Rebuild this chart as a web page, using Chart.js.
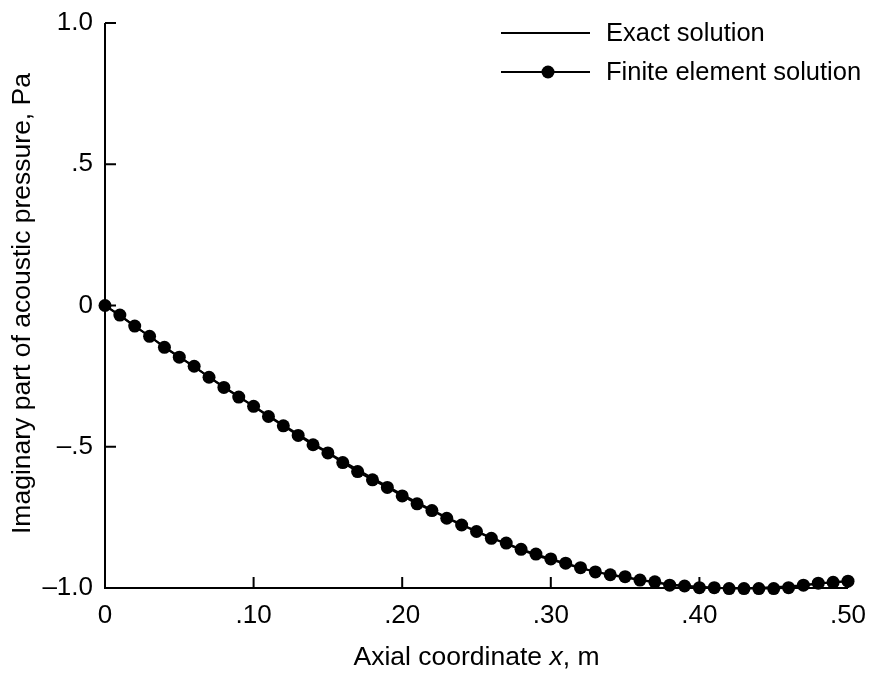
<!DOCTYPE html>
<html>
<head>
<meta charset="utf-8">
<script src="https://cdn.jsdelivr.net/npm/chart.js@4/dist/chart.umd.min.js"></script>
<style>
  html, body { margin: 0; padding: 0; background: #fff; }
  #wrap { width: 874px; height: 675px; }
</style>
</head>
<body>
<div id="wrap"><canvas id="chart" width="874" height="675"></canvas></div>
<script>
// axial coordinate, m
const xValues = [0.00, 0.01, 0.02, 0.03, 0.04, 0.05, 0.06, 0.07, 0.08, 0.09,
                 0.10, 0.11, 0.12, 0.13, 0.14, 0.15, 0.16, 0.17, 0.18, 0.19,
                 0.20, 0.21, 0.22, 0.23, 0.24, 0.25, 0.26, 0.27, 0.28, 0.29,
                 0.30, 0.31, 0.32, 0.33, 0.34, 0.35, 0.36, 0.37, 0.38, 0.39,
                 0.40, 0.41, 0.42, 0.43, 0.44, 0.45, 0.46, 0.47, 0.48, 0.49, 0.50];
// imaginary part of pressure, Pa
const exactValues = [0.000, -0.036, -0.073, -0.109, -0.146, -0.182, -0.217, -0.253, -0.288, -0.322,
                     -0.356, -0.390, -0.423, -0.456, -0.488, -0.520, -0.551, -0.581, -0.611, -0.640,
                     -0.669, -0.697, -0.724, -0.750, -0.775, -0.799, -0.822, -0.844, -0.865, -0.884,
                     -0.900, -0.915, -0.929, -0.942, -0.953, -0.963, -0.972, -0.980, -0.987, -0.992,
                     -0.996, -0.999, -1.000, -1.000, -0.999, -0.997, -0.994, -0.990, -0.985, -0.980, -0.975];
const feValues = [0.000, -0.034, -0.073, -0.109, -0.148, -0.183, -0.215, -0.254, -0.290, -0.324,
                  -0.357, -0.393, -0.426, -0.460, -0.493, -0.522, -0.556, -0.588, -0.617, -0.644,
                  -0.674, -0.702, -0.726, -0.753, -0.777, -0.800, -0.824, -0.841, -0.863, -0.880,
                  -0.897, -0.912, -0.928, -0.943, -0.953, -0.960, -0.972, -0.978, -0.990, -0.993,
                  -0.999, -0.999, -1.002, -1.002, -1.002, -1.002, -0.999, -0.990, -0.983, -0.980, -0.976];

const xTickValues = [0, 0.1, 0.2, 0.3, 0.4, 0.5];
const xTickLabels = ['0', '.10', '.20', '.30', '.40', '.50'];
const yTickValues = [-1, -0.5, 0, 0.5, 1];
const yTickLabels = ['\u20131.0', '\u2013.5', '0', '.5', '1.0'];

const seriesNames = ['Exact solution', 'Finite element solution'];

const FONT = 'Liberation Sans, Arial, Helvetica, sans-serif';
const TICK_SIZE = 26;
const TITLE_SIZE = 26.5;
const LEGEND_SIZE = 25.5;

function toPoints(ys) {
    return xValues.map((x, i) => ({ x: x, y: ys[i] }));
}

// axis lines, inward ticks, titles and legend
const decorPlugin = {
    id: 'decor',
    beforeDatasetsDraw(chart) {
        const ctx = chart.ctx;
        const xs = chart.scales.x, ys = chart.scales.y;
        const x0 = xs.getPixelForValue(0), x1 = xs.getPixelForValue(0.5);
        const y0 = ys.getPixelForValue(-1), y1 = ys.getPixelForValue(1);
        const tick = 11;
        ctx.save();
        ctx.strokeStyle = '#000';
        ctx.lineWidth = 2;
        ctx.lineCap = 'butt';
        ctx.beginPath();
        ctx.moveTo(x0, y1);
        ctx.lineTo(x0, y0);
        ctx.lineTo(x1, y0);
        xTickValues.forEach(v => {
            const px = xs.getPixelForValue(v);
            ctx.moveTo(px, y0);
            ctx.lineTo(px, y0 - tick);
        });
        yTickValues.forEach(v => {
            const py = ys.getPixelForValue(v);
            ctx.moveTo(x0, py);
            ctx.lineTo(x0 + tick, py);
        });
        ctx.stroke();
        ctx.restore();
    },
    afterDraw(chart) {
        const ctx = chart.ctx;
        const xs = chart.scales.x;
        ctx.save();
        ctx.fillStyle = '#000';

        // x title with italic x
        ctx.textBaseline = 'alphabetic';
        const cx = (xs.getPixelForValue(0) + xs.getPixelForValue(0.5)) / 2;
        const parts = [['Axial coordinate ', 'normal'], ['x', 'italic'], [', m', 'normal']];
        let total = 0;
        parts.forEach(p => {
            ctx.font = p[1] + ' ' + TITLE_SIZE + 'px ' + FONT;
            total += ctx.measureText(p[0]).width;
        });
        let px = cx - total / 2;
        ctx.textAlign = 'left';
        parts.forEach(p => {
            ctx.font = p[1] + ' ' + TITLE_SIZE + 'px ' + FONT;
            ctx.fillText(p[0], px, 665);
            px += ctx.measureText(p[0]).width;
        });

        // y title
        ctx.textBaseline = 'middle';
        ctx.font = TITLE_SIZE + 'px ' + FONT;
        ctx.save();
        ctx.translate(23, 303.5);
        ctx.rotate(-Math.PI / 2);
        ctx.textAlign = 'center';
        ctx.fillText('Imaginary part of acoustic pressure, Pa', 0, 0);
        ctx.restore();

        // legend
        const lx0 = 501, lx1 = 590, tx = 606;
        const rows = [33, 72];
        ctx.font = LEGEND_SIZE + 'px ' + FONT;
        ctx.strokeStyle = '#000';
        ctx.lineWidth = 2;
        rows.forEach((ry, i) => {
            ctx.beginPath();
            ctx.moveTo(lx0, ry);
            ctx.lineTo(lx1, ry);
            ctx.stroke();
            if (i === 1) {
                ctx.beginPath();
                ctx.arc(548, ry, 6.5, 0, Math.PI * 2);
                ctx.fill();
            }
            ctx.textAlign = 'left';
            ctx.fillText(seriesNames[i], tx, ry + 1);
        });
        ctx.restore();
    }
};

const ctx = document.getElementById('chart').getContext('2d');
const chart = new Chart(ctx, {
    type: 'line',
    data: {
        datasets: [{
            label: seriesNames[0],
            data: toPoints(exactValues),
            borderColor: '#000',
            borderWidth: 2,
            pointRadius: 0,
            tension: 0.3,
            clip: false,
            order: 2
        }, {
            label: seriesNames[1],
            data: toPoints(feValues),
            borderColor: '#000',
            backgroundColor: '#000',
            borderWidth: 2,
            pointRadius: 6.5,
            pointBackgroundColor: '#000',
            pointBorderWidth: 0,
            clip: false,
            order: 1
        }]
    },
    options: {
        responsive: false,
        animation: false,
        devicePixelRatio: 1,
        layout: {
            padding: { top: 23, right: 26, left: 0, bottom: 0 }
        },
        plugins: {
            legend: { display: false },
            tooltip: { enabled: false }
        },
        scales: {
            x: {
                type: 'linear',
                min: 0,
                max: 0.5,
                grid: { display: false, drawTicks: false },
                border: { display: false },
                afterBuildTicks(scale) {
                    scale.ticks = xTickValues.map(v => ({ value: v }));
                },
                afterFit(scale) {
                    scale.height = 87;
                    scale.paddingLeft = 0;
                    scale.paddingRight = 0;
                },
                ticks: {
                    color: '#000',
                    padding: 12,
                    maxRotation: 0,
                    font: { family: FONT, size: TICK_SIZE },
                    callback: (v, i) => xTickLabels[i]
                }
            },
            y: {
                min: -1,
                max: 1,
                grid: { display: false, drawTicks: false },
                border: { display: false },
                afterBuildTicks(scale) {
                    scale.ticks = yTickValues.map(v => ({ value: v }));
                },
                afterFit(scale) {
                    scale.width = 105;
                    scale.paddingTop = 0;
                    scale.paddingBottom = 0;
                },
                ticks: {
                    color: '#000',
                    padding: 12,
                    font: { family: FONT, size: TICK_SIZE },
                    callback: (v, i) => yTickLabels[i]
                }
            }
        }
    },
    plugins: [decorPlugin]
});
</script>
</body>
</html>
